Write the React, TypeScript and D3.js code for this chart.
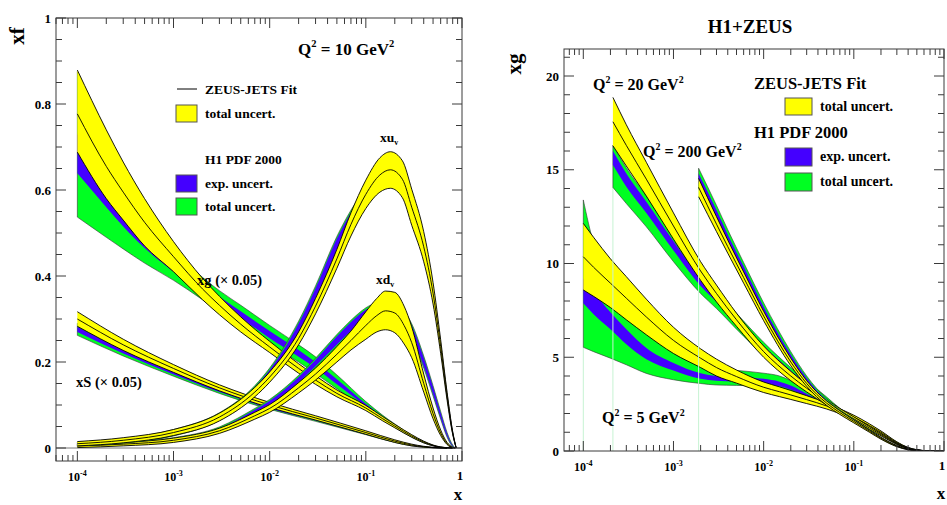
import React from 'react';
import * as d3 from 'd3';

const W = 947;
const H = 505;
const FONT = '"Liberation Serif", "Times New Roman", serif';
const YELLOW = '#ffff00';
const BLUE = '#4400ff';
const GREEN = '#00ff22';
const FRAME = '#3a3a3a';

// ---------------- LEFT PANEL (Q2 = 10 GeV2) ----------------
// xg (x 0.05)
const xgX = [1e-4, 2e-4, 3e-4, 5e-4, 1e-3, 2e-3, 3e-3, 5e-3, 1e-2, 2e-2, 3e-2, 5e-2, 0.1, 0.15, 0.2, 0.3, 0.4, 0.5, 0.6, 0.7, 0.8];
const xgZeusC = [0.777, 0.655, 0.595, 0.525, 0.445, 0.37, 0.332, 0.288, 0.235, 0.185, 0.158, 0.127, 0.093, 0.068, 0.051, 0.028, 0.014, 0.006, 0.002, 0.0005, 0];
const xgZeusHi = [0.879, 0.74, 0.665, 0.58, 0.48, 0.395, 0.353, 0.305, 0.248, 0.196, 0.168, 0.135, 0.099, 0.073, 0.055, 0.031, 0.016, 0.007, 0.0025, 0.0006, 0];
const xgZeusLo = [0.688, 0.58, 0.53, 0.47, 0.41, 0.345, 0.31, 0.27, 0.222, 0.174, 0.148, 0.119, 0.087, 0.063, 0.047, 0.025, 0.012, 0.005, 0.0015, 0.0004, 0];
const xgH1TotLo = [0.537, 0.49, 0.463, 0.43, 0.39, 0.345, 0.318, 0.287, 0.242, 0.2, 0.173, 0.138, 0.092, 0.066, 0.048, 0.025, 0.012, 0.005, 0.0015, 0.0003, 0];
const xgH1ExpLo = [0.639, 0.56, 0.515, 0.465, 0.41, 0.36, 0.333, 0.302, 0.255, 0.212, 0.186, 0.148, 0.097, 0.069, 0.05, 0.026, 0.013, 0.0055, 0.0017, 0.0004, 0];
const xgH1ExpHi = [0.73, 0.62, 0.565, 0.505, 0.44, 0.38, 0.352, 0.318, 0.272, 0.228, 0.2, 0.16, 0.103, 0.073, 0.054, 0.028, 0.014, 0.006, 0.002, 0.0005, 0];
const xgH1TotHi = [0.875, 0.7, 0.62, 0.54, 0.465, 0.397, 0.366, 0.332, 0.285, 0.24, 0.212, 0.17, 0.108, 0.076, 0.056, 0.03, 0.015, 0.0065, 0.0022, 0.0006, 0];

// xS (x 0.05)
const xsX = [1e-4, 3e-4, 1e-3, 3e-3, 1e-2, 3e-2, 0.1, 0.2, 0.3, 0.4, 0.5, 0.7];
const xsZeusC = [0.3, 0.24, 0.185, 0.14, 0.1, 0.07, 0.036, 0.016, 0.007, 0.003, 0.001, 0];
const xsZeusHi = [0.317, 0.253, 0.194, 0.147, 0.106, 0.075, 0.04, 0.019, 0.009, 0.004, 0.0015, 0];
const xsZeusLo = [0.283, 0.227, 0.176, 0.133, 0.094, 0.065, 0.032, 0.013, 0.005, 0.002, 0.0005, 0];
const xsH1TotLo = [0.262, 0.214, 0.167, 0.127, 0.09, 0.062, 0.031, 0.013, 0.005, 0.002, 0.0005, 0];
const xsH1ExpLo = [0.27, 0.22, 0.171, 0.13, 0.092, 0.064, 0.032, 0.014, 0.0055, 0.0022, 0.0007, 0];
const xsH1ExpHi = [0.282, 0.228, 0.177, 0.135, 0.096, 0.067, 0.034, 0.015, 0.006, 0.0025, 0.0008, 0];
const xsH1TotHi = [0.29, 0.236, 0.183, 0.14, 0.1, 0.07, 0.036, 0.016, 0.007, 0.003, 0.001, 0];

// xu_v
const xuX = [1e-4, 3e-4, 1e-3, 3e-3, 7e-3, 1e-2, 2e-2, 3e-2, 5e-2, 0.07, 0.1, 0.14, 0.18, 0.24, 0.3, 0.4, 0.5, 0.6, 0.7, 0.8, 0.87];
const xuZeusC = [0.01, 0.018, 0.036, 0.072, 0.13, 0.165, 0.255, 0.33, 0.44, 0.52, 0.59, 0.635, 0.647, 0.625, 0.56, 0.468, 0.36, 0.236, 0.12, 0.035, 0];
const xuZeusHi = [0.015, 0.024, 0.043, 0.081, 0.141, 0.177, 0.27, 0.348, 0.462, 0.547, 0.623, 0.675, 0.689, 0.668, 0.602, 0.503, 0.385, 0.252, 0.129, 0.038, 0];
const xuZeusLo = [0.005, 0.012, 0.029, 0.063, 0.119, 0.153, 0.24, 0.312, 0.418, 0.493, 0.557, 0.595, 0.604, 0.582, 0.518, 0.433, 0.335, 0.22, 0.111, 0.032, 0];
const xuH1TotLo = [0.005, 0.011, 0.028, 0.064, 0.122, 0.158, 0.255, 0.335, 0.445, 0.515, 0.57, 0.605, 0.615, 0.595, 0.535, 0.447, 0.347, 0.23, 0.118, 0.034, 0];
const xuH1ExpLo = [0.006, 0.013, 0.03, 0.066, 0.125, 0.162, 0.262, 0.345, 0.455, 0.522, 0.575, 0.61, 0.62, 0.6, 0.54, 0.45, 0.35, 0.232, 0.12, 0.035, 0];
const xuH1ExpHi = [0.012, 0.02, 0.04, 0.079, 0.142, 0.182, 0.29, 0.372, 0.487, 0.548, 0.598, 0.63, 0.64, 0.62, 0.56, 0.47, 0.365, 0.242, 0.126, 0.037, 0];
const xuH1TotHi = [0.014, 0.022, 0.043, 0.082, 0.145, 0.186, 0.295, 0.377, 0.492, 0.553, 0.603, 0.635, 0.645, 0.625, 0.565, 0.474, 0.368, 0.244, 0.127, 0.038, 0];

// xd_v
const xdX = [1e-4, 3e-4, 1e-3, 3e-3, 7e-3, 1e-2, 2e-2, 3e-2, 5e-2, 0.07, 0.1, 0.13, 0.16, 0.2, 0.25, 0.3, 0.4, 0.5, 0.6, 0.7, 0.8, 0.85];
const xdZeusC = [0.005, 0.009, 0.018, 0.04, 0.075, 0.092, 0.14, 0.172, 0.218, 0.25, 0.285, 0.308, 0.319, 0.314, 0.285, 0.245, 0.15, 0.08, 0.035, 0.01, 0.001, 0];
const xdZeusHi = [0.009, 0.013, 0.023, 0.046, 0.083, 0.101, 0.152, 0.186, 0.236, 0.272, 0.317, 0.348, 0.365, 0.362, 0.33, 0.282, 0.172, 0.093, 0.042, 0.013, 0.002, 0];
const xdZeusLo = [0.001, 0.005, 0.013, 0.034, 0.067, 0.083, 0.128, 0.158, 0.2, 0.228, 0.253, 0.27, 0.275, 0.268, 0.242, 0.21, 0.13, 0.068, 0.029, 0.008, 0.0005, 0];
const xdH1TotLo = [0.003, 0.007, 0.015, 0.037, 0.077, 0.097, 0.148, 0.186, 0.235, 0.267, 0.295, 0.307, 0.31, 0.305, 0.285, 0.255, 0.186, 0.121, 0.067, 0.025, 0.003, 0];
const xdH1ExpLo = [0.004, 0.008, 0.017, 0.04, 0.08, 0.1, 0.152, 0.19, 0.24, 0.272, 0.3, 0.312, 0.315, 0.31, 0.29, 0.26, 0.19, 0.125, 0.07, 0.027, 0.004, 0];
const xdH1ExpHi = [0.007, 0.011, 0.021, 0.046, 0.089, 0.11, 0.165, 0.205, 0.26, 0.293, 0.322, 0.335, 0.34, 0.335, 0.315, 0.285, 0.21, 0.142, 0.082, 0.034, 0.006, 0];
const xdH1TotHi = [0.009, 0.013, 0.024, 0.049, 0.092, 0.113, 0.169, 0.209, 0.264, 0.297, 0.326, 0.339, 0.344, 0.339, 0.319, 0.289, 0.214, 0.145, 0.085, 0.036, 0.007, 0];

// ---------------- RIGHT PANEL (xg at three Q2) ----------------
const q5X = [1e-4, 1.3e-4, 2e-4, 3e-4, 5e-4, 1e-3, 2e-3, 3e-3, 5e-3, 1e-2, 1.5e-2, 2e-2, 3e-2, 5e-2, 0.07, 0.1, 0.15, 0.2, 0.3, 0.4, 0.5, 0.7, 1];
const q5ZeusC = [10.36, 9.8, 8.95, 8.15, 7.15, 5.9, 4.95, 4.45, 3.97, 3.4, 3.16, 2.99, 2.74, 2.4, 2.12, 1.8, 1.35, 1.0, 0.45, 0.17, 0.06, 0.006, 0];
const q5ZeusHi = [12.14, 11.4, 10.25, 9.3, 8.1, 6.6, 5.45, 4.9, 4.32, 3.68, 3.42, 3.23, 2.95, 2.56, 2.25, 1.91, 1.44, 1.07, 0.49, 0.19, 0.07, 0.007, 0];
const q5ZeusLo = [8.59, 8.25, 7.65, 7.0, 6.2, 5.2, 4.45, 4.0, 3.62, 3.12, 2.9, 2.75, 2.53, 2.24, 1.99, 1.69, 1.26, 0.93, 0.41, 0.15, 0.05, 0.005, 0];
const q5H1TotLo = [5.53, 5.3, 4.95, 4.6, 4.14, 3.8, 3.6, 3.52, 3.5, 3.45, 3.3, 3.12, 2.78, 2.3, 2.02, 1.7, 1.26, 0.92, 0.41, 0.15, 0.05, 0.005, 0];
const q5H1ExpLo = [7.88, 7.3, 6.5, 5.7, 4.9, 4.3, 3.85, 3.75, 3.7, 3.6, 3.45, 3.27, 2.9, 2.38, 2.07, 1.75, 1.3, 0.95, 0.43, 0.16, 0.055, 0.006, 0];
const q5H1ExpHi = [9.2, 8.5, 7.4, 6.5, 5.5, 4.7, 4.15, 4.0, 3.95, 3.85, 3.7, 3.5, 3.06, 2.5, 2.16, 1.82, 1.36, 1.0, 0.46, 0.175, 0.06, 0.006, 0];
const q5H1TotHi = [13.39, 11.07, 9.0, 7.7, 6.5, 5.5, 4.55, 4.4, 4.3, 4.15, 4.0, 3.75, 3.2, 2.58, 2.22, 1.88, 1.41, 1.04, 0.48, 0.185, 0.065, 0.007, 0];

const q20X = [2.13e-4, 3e-4, 5e-4, 1e-3, 2e-3, 3e-3, 5e-3, 1e-2, 2e-2, 3e-2, 5e-2, 0.07, 0.1, 0.15, 0.2, 0.3, 0.4, 0.5, 0.7, 1];
const q20ZeusC = [17.56, 16.3, 14.5, 12.0, 9.6, 8.4, 7.0, 5.3, 4.0, 3.35, 2.6, 2.15, 1.72, 1.22, 0.87, 0.38, 0.13, 0.045, 0.004, 0];
const q20ZeusHi = [18.86, 17.4, 15.4, 12.7, 10.1, 8.85, 7.35, 5.6, 4.25, 3.55, 2.75, 2.27, 1.82, 1.3, 0.93, 0.41, 0.145, 0.05, 0.005, 0];
const q20ZeusLo = [16.28, 15.2, 13.6, 11.3, 9.1, 7.95, 6.65, 5.0, 3.75, 3.15, 2.45, 2.03, 1.62, 1.14, 0.81, 0.35, 0.115, 0.04, 0.003, 0];
const q20H1TotLo = [14.06, 13.2, 11.96, 10.1, 8.4, 7.6, 6.5, 5.1, 3.9, 3.3, 2.6, 2.1, 1.66, 1.17, 0.83, 0.36, 0.12, 0.04, 0.003, 0];
const q20H1ExpLo = [15.25, 14.1, 12.7, 10.7, 8.8, 7.95, 6.8, 5.35, 4.1, 3.45, 2.68, 2.15, 1.7, 1.2, 0.85, 0.37, 0.125, 0.042, 0.0035, 0];
const q20H1ExpHi = [16.0, 14.8, 13.3, 11.2, 9.2, 8.3, 7.1, 5.6, 4.3, 3.6, 2.78, 2.22, 1.76, 1.25, 0.89, 0.39, 0.133, 0.046, 0.004, 0];
const q20H1TotHi = [16.3, 15.1, 13.6, 11.5, 9.5, 8.55, 7.35, 5.8, 4.45, 3.75, 2.88, 2.28, 1.8, 1.28, 0.91, 0.4, 0.137, 0.048, 0.0045, 0];

const q200X = [1.9e-3, 3e-3, 4e-3, 6e-3, 1e-2, 2e-2, 3e-2, 5e-2, 0.07, 0.1, 0.15, 0.2, 0.3, 0.4, 0.5, 0.7, 1];
const q200ZeusC = [14.06, 12.1, 10.9, 9.25, 7.2, 4.75, 3.6, 2.55, 2.05, 1.58, 1.05, 0.68, 0.26, 0.08, 0.025, 0.001, 0];
const q200ZeusHi = [14.54, 12.5, 11.25, 9.55, 7.45, 4.95, 3.75, 2.67, 2.15, 1.66, 1.11, 0.73, 0.29, 0.095, 0.03, 0.002, 0];
const q200ZeusLo = [13.56, 11.7, 10.55, 8.95, 6.95, 4.55, 3.45, 2.43, 1.95, 1.5, 0.99, 0.63, 0.23, 0.065, 0.02, 0.0005, 0];
const q200H1TotLo = [14.0, 12.2, 11.0, 9.35, 7.3, 4.85, 3.68, 2.55, 2.03, 1.56, 1.03, 0.66, 0.25, 0.075, 0.022, 0.001, 0];
const q200H1ExpLo = [14.3, 12.45, 11.2, 9.55, 7.45, 4.95, 3.76, 2.61, 2.08, 1.6, 1.06, 0.68, 0.26, 0.08, 0.024, 0.001, 0];
const q200H1ExpHi = [14.8, 12.85, 11.55, 9.85, 7.7, 5.15, 3.9, 2.71, 2.15, 1.66, 1.1, 0.71, 0.28, 0.088, 0.027, 0.0015, 0];
const q200H1TotHi = [15.08, 13.1, 11.8, 10.05, 7.9, 5.3, 4.0, 2.78, 2.2, 1.7, 1.13, 0.73, 0.29, 0.092, 0.029, 0.002, 0];

// tick labels
const leftYMajor = [0, 0.2, 0.4, 0.6, 0.8, 1];
const leftYLabels = ['0', '0.2', '0.4', '0.6', '0.8', '1'];
const rightYMajor = [0, 5, 10, 15, 20];
const rightYLabels = ['0', '5', '10', '15', '20'];

type Curve = {
  x: number[]; zc: number[]; zhi: number[]; zlo: number[];
  tlo: number[]; elo: number[]; ehi: number[]; thi: number[];
};

const mk = (x: number[], zc: number[], zhi: number[], zlo: number[], tlo: number[], elo: number[], ehi: number[], thi: number[]): Curve =>
  ({ x, zc, zhi, zlo, tlo, elo, ehi, thi });

const leftCurves: Curve[] = [
  mk(xgX, xgZeusC, xgZeusHi, xgZeusLo, xgH1TotLo, xgH1ExpLo, xgH1ExpHi, xgH1TotHi),
  mk(xsX, xsZeusC, xsZeusHi, xsZeusLo, xsH1TotLo, xsH1ExpLo, xsH1ExpHi, xsH1TotHi),
  mk(xdX, xdZeusC, xdZeusHi, xdZeusLo, xdH1TotLo, xdH1ExpLo, xdH1ExpHi, xdH1TotHi),
  mk(xuX, xuZeusC, xuZeusHi, xuZeusLo, xuH1TotLo, xuH1ExpLo, xuH1ExpHi, xuH1TotHi),
];
const rightCurves: Curve[] = [
  mk(q5X, q5ZeusC, q5ZeusHi, q5ZeusLo, q5H1TotLo, q5H1ExpLo, q5H1ExpHi, q5H1TotHi),
  mk(q20X, q20ZeusC, q20ZeusHi, q20ZeusLo, q20H1TotLo, q20H1ExpLo, q20H1ExpHi, q20H1TotHi),
  mk(q200X, q200ZeusC, q200ZeusHi, q200ZeusLo, q200H1TotLo, q200H1ExpLo, q200H1ExpHi, q200H1TotHi),
];

type Frame = { x0: number; x1: number; y0: number; y1: number };
const LF: Frame = { x0: 56, x1: 462, y0: 18, y1: 461 };
const RF: Frame = { x0: 564, x1: 944, y0: 49, y1: 451 };

const lx = d3.scaleLog().domain([Math.pow(10, -4.222), 1]).range([LF.x0, LF.x1]);
const ly = d3.scaleLinear().domain([-0.0302, 1]).range([LF.y1, LF.y0]);
const rx = d3.scaleLog().domain([Math.pow(10, -4.214), 1]).range([RF.x0, RF.x1]);
const ry = d3.scaleLinear().domain([0, 21.44]).range([RF.y1, RF.y0]);

function Bands({ c, xs, ys, drop }: { c: Curve; xs: any; ys: any; drop?: boolean }) {
  const idx = c.x.map((_, i) => i);
  const area = (lo: number[], hi: number[]) =>
    d3.area<number>().x((i) => xs(c.x[i])).y0((i) => ys(lo[i])).y1((i) => ys(hi[i])).curve(d3.curveMonotoneX)(idx) || '';
  const line = (v: number[]) =>
    d3.line<number>().x((i) => xs(c.x[i])).y((i) => ys(v[i])).curve(d3.curveMonotoneX)(idx) || '';
  return (
    <g>
      {drop && (
        <line x1={xs(c.x[0])} x2={xs(c.x[0])} y1={ys(0)} y2={ys(c.tlo[0])} stroke="#c6f3d2" strokeWidth={1} />
      )}
      <path d={area(c.tlo, c.thi)} fill={GREEN} stroke="#333" strokeWidth={0.6} />
      <path d={area(c.elo, c.ehi)} fill={BLUE} stroke="none" />
      <path d={area(c.zlo, c.zhi)} fill={YELLOW} stroke="none" />
      {[c.zlo, c.zc, c.zhi].map((v, k) => (
        <path key={k} d={line(v)} fill="none" stroke="#000" strokeWidth={0.9} />
      ))}
    </g>
  );
}

function XAxis({ xs, f }: { xs: any; f: Frame }) {
  const ticks: number[] = xs.ticks().filter((t: number) => t >= xs.domain()[0] * 0.999 && t <= 1.0001);
  return (
    <g>
      {ticks.map((t, i) => {
        const lg = Math.log10(t);
        const major = Math.abs(lg - Math.round(lg)) < 1e-6;
        const len = major ? 10 : 6;
        const x = xs(t);
        return (
          <g key={i}>
            <line x1={x} x2={x} y1={f.y1} y2={f.y1 - len} stroke={FRAME} strokeWidth={1} />
            <line x1={x} x2={x} y1={f.y0} y2={f.y0 + len} stroke={FRAME} strokeWidth={1} />
            {major && (
              Math.round(lg) === 0 ? (
                <text x={x - 2} y={f.y1 + 19} textAnchor="middle" fontSize={13} fontWeight="bold" fontFamily={FONT}>1</text>
              ) : (
                <text x={x} y={f.y1 + 20} textAnchor="middle" fontSize={12} fontWeight="bold" fontFamily={FONT}>
                  10<tspan dy={-5} fontSize={8}>{`-${-Math.round(lg)}`}</tspan>
                </text>
              )
            )}
          </g>
        );
      })}
    </g>
  );
}

function YAxis({ ys, f, major, labels, minorStep }: { ys: any; f: Frame; major: number[]; labels: string[]; minorStep: number }) {
  const d = ys.domain();
  const minors = d3.range(Math.ceil(d[0] / minorStep) * minorStep, d[1] + 1e-9, minorStep);
  return (
    <g>
      {minors.map((v: number, i: number) => {
        const isMajor = major.some((m) => Math.abs(m - v) < 1e-6);
        const len = isMajor ? 10 : 6;
        const y = ys(v);
        return (
          <g key={i}>
            <line x1={f.x0} x2={f.x0 + len} y1={y} y2={y} stroke={FRAME} strokeWidth={1} />
            <line x1={f.x1} x2={f.x1 - len} y1={y} y2={y} stroke={FRAME} strokeWidth={1} />
          </g>
        );
      })}
      {major.map((m, i) => (
        <text key={i} x={f.x0 - 5} y={ys(m) + 4.5} textAnchor="end" fontSize={13} fontWeight="bold" fontFamily={FONT}>{labels[i]}</text>
      ))}
    </g>
  );
}

function Q2({ x, y, val, size }: { x: number; y: number; val: string; size: number }) {
  const s = size * 0.62;
  const up = size * 0.45;
  return (
    <text x={x} y={y} fontSize={size} fontWeight="bold" fontFamily={FONT}>
      Q<tspan dy={-up} fontSize={s}>2</tspan>
      <tspan dy={up}>{` = ${val} GeV`}</tspan>
      <tspan dy={-up} fontSize={s}>2</tspan>
    </text>
  );
}

function Label({ x, y, text, size = 13.5 }: { x: number; y: number; text: string; size?: number }) {
  return <text x={x} y={y} fontSize={size} fontWeight="bold" fontFamily={FONT}>{text}</text>;
}

function Box({ x, y, w, h, fill }: { x: number; y: number; w: number; h: number; fill: string }) {
  return <rect x={x} y={y} width={w} height={h} fill={fill} stroke="#555" strokeWidth={1} />;
}

export default function App() {
  return (
    <svg width={W} height={H} style={{ position: 'absolute', left: 0, top: 0, background: '#fff' }}>
      <defs>
        <clipPath id="clipL"><rect x={LF.x0} y={LF.y0} width={LF.x1 - LF.x0} height={LF.y1 - LF.y0} /></clipPath>
        <clipPath id="clipR"><rect x={RF.x0} y={RF.y0} width={RF.x1 - RF.x0} height={RF.y1 - RF.y0} /></clipPath>
      </defs>

      {/* ---------- LEFT PANEL ---------- */}
      <line x1={LF.x0} x2={LF.x1} y1={ly(0)} y2={ly(0)} stroke="#777" strokeWidth={1} />
      <g clipPath="url(#clipL)">
        {leftCurves.map((c, i) => <Bands key={i} c={c} xs={lx} ys={ly} />)}
      </g>
      <rect x={LF.x0} y={LF.y0} width={LF.x1 - LF.x0} height={LF.y1 - LF.y0} fill="none" stroke={FRAME} strokeWidth={1} />
      <XAxis xs={lx} f={LF} />
      <YAxis ys={ly} f={LF} major={leftYMajor} labels={leftYLabels} minorStep={0.05} />
      <text transform="translate(24,36) rotate(-90)" textAnchor="middle" fontSize={21} fontWeight="bold" fontFamily={FONT}>xf</text>
      <text x={458} y={500} textAnchor="middle" fontSize={17} fontWeight="bold" fontFamily={FONT}>x</text>
      <Q2 x={298} y={55} val="10" size={17} />

      <line x1={177} x2={197} y1={89} y2={89} stroke="#000" strokeWidth={1} />
      <Label x={205} y={94} text="ZEUS-JETS Fit" />
      <Box x={176} y={105} w={21} h={17} fill={YELLOW} />
      <Label x={205} y={118} text="total uncert." />
      <Label x={205} y={164} text="H1 PDF 2000" />
      <Box x={176} y={175} w={21} h={17} fill={BLUE} />
      <Label x={205} y={188} text="exp. uncert." />
      <Box x={176} y={198} w={21} h={17} fill={GREEN} />
      <Label x={205} y={211} text="total uncert." />

      <text x={380} y={142} fontSize={13.5} fontWeight="bold" fontFamily={FONT}>xu<tspan dy={3} fontSize={8}>v</tspan></text>
      <text x={376} y={284} fontSize={13.5} fontWeight="bold" fontFamily={FONT}>xd<tspan dy={3} fontSize={8}>v</tspan></text>
      <Label x={197} y={285} text="xg (× 0.05)" size={14.5} />
      <Label x={76} y={387} text="xS (× 0.05)" size={14.5} />

      {/* ---------- RIGHT PANEL ---------- */}
      <g clipPath="url(#clipR)">
        {rightCurves.map((c, i) => <Bands key={i} c={c} xs={rx} ys={ry} drop />)}
      </g>
      <rect x={RF.x0} y={RF.y0} width={RF.x1 - RF.x0} height={RF.y1 - RF.y0} fill="none" stroke={FRAME} strokeWidth={1} />
      <XAxis xs={rx} f={RF} />
      <YAxis ys={ry} f={RF} major={rightYMajor} labels={rightYLabels} minorStep={1} />
      <text x={750} y={33} textAnchor="middle" fontSize={19} fontWeight="bold" fontFamily={FONT}>H1+ZEUS</text>
      <text transform="translate(521,64) rotate(-90)" textAnchor="middle" fontSize={21} fontWeight="bold" fontFamily={FONT}>xg</text>
      <text x={941} y={499} textAnchor="middle" fontSize={17} fontWeight="bold" fontFamily={FONT}>x</text>
      <Q2 x={593} y={90} val="20" size={16} />
      <Q2 x={643} y={157} val="200" size={16} />
      <Q2 x={602} y={423} val="5" size={16} />

      <Label x={754} y={89} text="ZEUS-JETS Fit" size={16.5} />
      <Box x={785} y={98} w={27} h={17} fill={YELLOW} />
      <Label x={820} y={111} text="total uncert." size={14} />
      <Label x={754} y={138} text="H1 PDF 2000" size={16.5} />
      <Box x={785} y={148} w={27} h={18} fill={BLUE} />
      <Label x={820} y={161} text="exp. uncert." size={14} />
      <Box x={785} y={173} w={27} h={18} fill={GREEN} />
      <Label x={820} y={186} text="total uncert." size={14} />
    </svg>
  );
}
